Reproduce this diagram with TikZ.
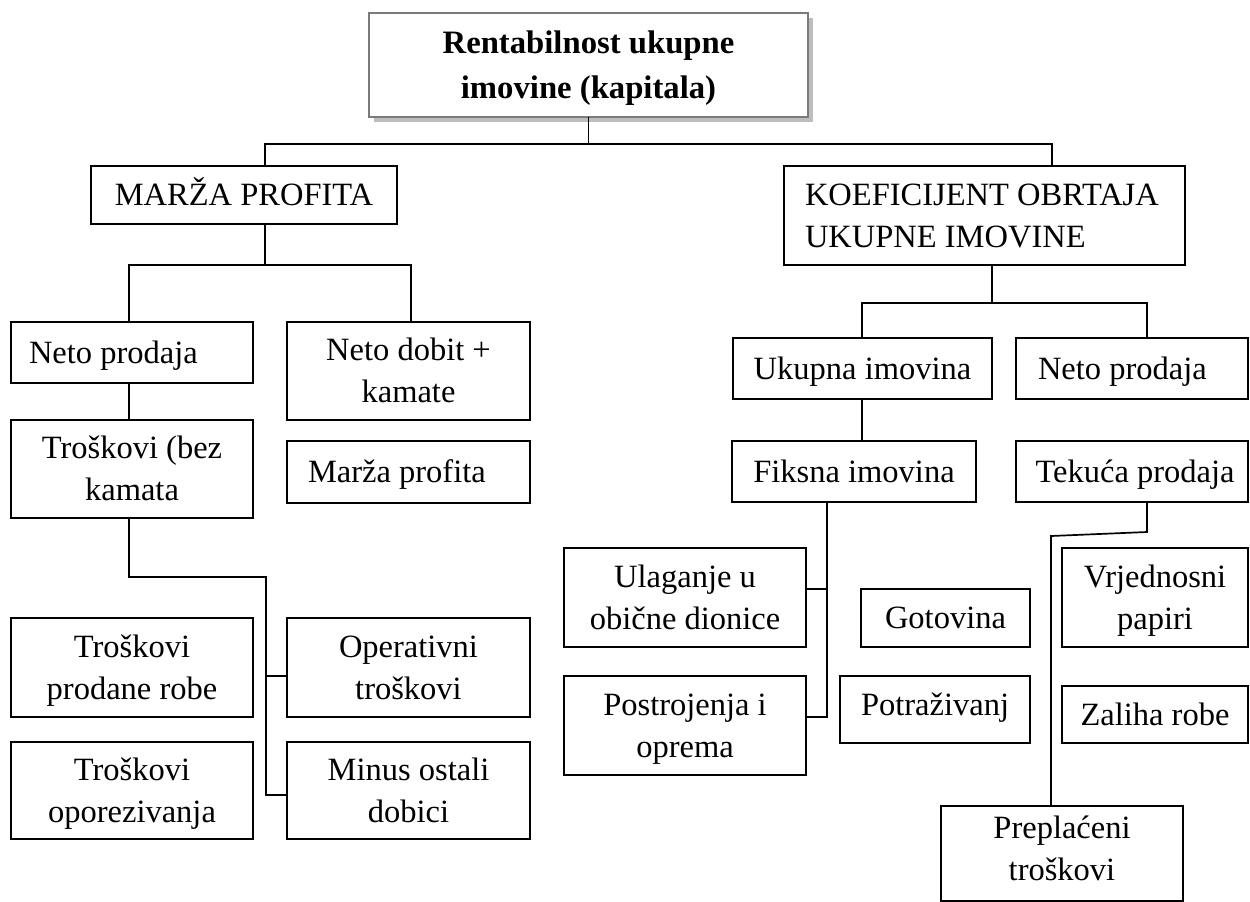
\documentclass[tikz,border=0pt]{standalone}
\usepackage{fontspec}
\setmainfont{Liberation Serif}
\usetikzlibrary{shadows}
\definecolor{titlegray}{HTML}{7A7A7A}
\definecolor{shadowgray}{HTML}{BDBDBD}
\newcommand\sst{\rule[-8pt]{0pt}{37pt}}
\newcommand\sstlow{\rule[-13pt]{0pt}{37pt}}
\begin{document}
\begin{tikzpicture}[x=1pt,y=-1pt,
  every node/.style={inner sep=0pt, outer sep=0pt},
  box/.style={draw, line width=1.7pt, align=center, font=\fontsize{32.5}{42}\selectfont},
  lbox/.style={box, align=flush left},
  conn/.style={line width=1.7pt},
  titlebox/.style={draw=titlegray, line width=2.6pt, fill=white, align=center,
     drop shadow={shadow xshift=4.5pt, shadow yshift=-4.5pt, fill=shadowgray, opacity=1},
     font=\bfseries\fontsize{32.7}{45}\selectfont},
  ]
\useasboundingbox (0,0) rectangle (1250,902);

% title
\node[titlebox, minimum width=439pt, minimum height=104pt] (title) at (588.5,65) {\sst Rentabilnost ukupne\\\sst imovine (kapitala)};

% second level
\node[box, minimum width=306pt, minimum height=58pt] (mp) at (244,195) {\sst MARŽA PROFITA};
\node[lbox, minimum width=401pt, minimum height=99pt, text width=359pt, inner xsep=21pt] (koef) at (984.5,215.5) {\sst KOEFICIJENT~OBRTAJA\\\sst UKUPNE~IMOVINE};

% left branch
\node[lbox, minimum width=242pt, minimum height=61pt, text width=206pt, inner xsep=18pt] (np1) at (132,352.5) {\sst Neto~prodaja};
\node[box, minimum width=243pt, minimum height=98pt] (nd) at (408.5,371) {\sst Neto dobit +\\\sst kamate};
\node[box, minimum width=242pt, minimum height=98pt] (tr) at (132,469) {\sst Troškovi (bez\\\sst kamata};
\node[lbox, minimum width=243pt, minimum height=62pt, text width=201pt, inner xsep=21pt] (mpf) at (408.5,472) {\sst Marža~profita};
\node[box, minimum width=242pt, minimum height=99pt] (tpr) at (132,667.5) {\sst Troškovi\\\sst prodane robe};
\node[box, minimum width=243pt, minimum height=99pt] (op) at (408.5,667.5) {\sst Operativni\\\sst troškovi};
\node[box, minimum width=242pt, minimum height=97pt] (topz) at (132,790.5) {\sst Troškovi\\\sst oporezivanja};
\node[box, minimum width=243pt, minimum height=97pt] (mo) at (408.5,790.5) {\sst Minus ostali\\\sst dobici};

% right branch
\node[box, minimum width=259pt, minimum height=61pt] (ui) at (862.5,368.5) {\sst Ukupna imovina};
\node[lbox, minimum width=232pt, minimum height=61pt, text width=188pt, inner xsep=22pt] (np2) at (1132,368.5) {\sst Neto~prodaja};
\node[box, minimum width=244pt, minimum height=61pt] (fi) at (854,471.5) {\sst Fiksna imovina};
\node[box, minimum width=232pt, minimum height=61pt] (tp) at (1132,471.5) {\sst \hspace*{6pt}Tekuća prodaja};
\node[box, minimum width=242pt, minimum height=99pt] (ul) at (685,597.5) {\sst Ulaganje u\\\sst obične dionice};
\node[box, minimum width=169pt, minimum height=58pt] (go) at (945.5,618) {\sst Gotovina};
\node[box, minimum width=186pt, minimum height=99pt] (vp) at (1155,597.5) {\sst Vrjednosni\\\sst papiri};
\node[box, minimum width=242pt, minimum height=99pt] (po) at (685,725.5) {\sst Postrojenja i\\\sst oprema};
\node[box, minimum width=190pt, minimum height=67pt] (pt) at (935,709.5) {\sstlow Potraživanj};
\node[box, minimum width=186pt, minimum height=57pt] (zr) at (1155,714.5) {\sst Zaliha robe};
\node[box, minimum width=242pt, minimum height=95pt] (pc) at (1062,853.5) {\sstlow Preplaćeni\\\sstlow troškovi};

% junction coordinates
\coordinate (aM) at (588.5,144);
\coordinate (aL) at (265,144);
\coordinate (aR) at (1052,144);
\coordinate (bM) at (265,265);
\coordinate (bL) at (129,265);
\coordinate (bR) at (411,265);
\coordinate (cT) at (266,577);
\coordinate (c1) at (266,676);
\coordinate (c2) at (266,795);
\coordinate (dM) at (992,303);
\coordinate (dL) at (862,303);
\coordinate (dR) at (1147,303);
\coordinate (e1) at (827,589);
\coordinate (e2) at (827,717);
\coordinate (f1) at (1147,532);
\coordinate (f2) at (1051,536);

% connectors
\draw[conn] (title.south) -- (aM);
\draw[conn] (mp.north -| aL) -- (aL) -- (aR) -- (koef.north -| aR);
\draw[conn] (mp.south -| bM) -- (bM);
\draw[conn] (np1.north -| bL) -- (bL) -- (bR) -- (nd.north -| bR);
\draw[conn] (np1.south -| bL) -- (tr.north -| bL);
\draw[conn] (tr.south -| bL) |- (cT) -- (c2) -- (mo.west |- c2);
\draw[conn] (c1) -- (op.west |- c1);

\draw[conn] (koef.south -| dM) -- (dM);
\draw[conn] (ui.north -| dL) -- (dL) -- (dR) -- (np2.north -| dR);
\draw[conn] (ui.south -| dL) -- (fi.north -| dL);
\draw[conn] (fi.south -| e1) -- (e2) -- (po.east |- e2);
\draw[conn] (e1) -- (ul.east |- e1);
\draw[conn] (tp.south -| f1) -- (f1) -- (f2) -- (pc.north -| f2);
\end{tikzpicture}
\end{document}
